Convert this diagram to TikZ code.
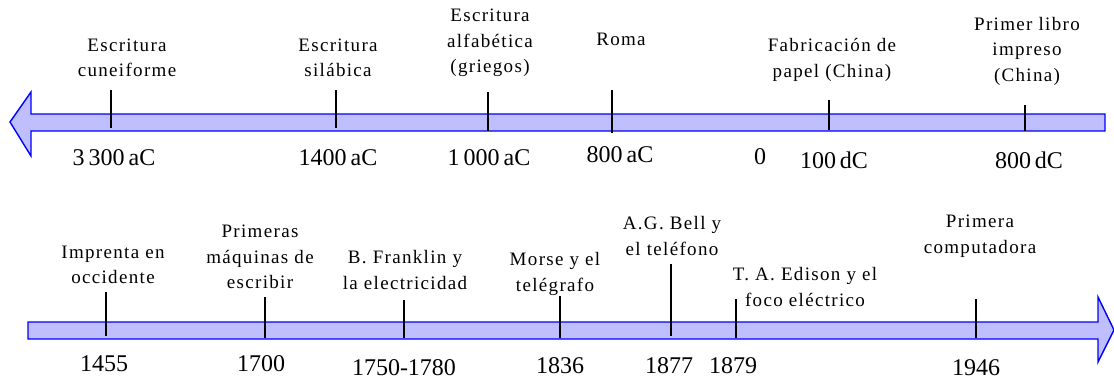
\documentclass[tikz,border=0pt]{standalone}
\usepackage{fontspec}
\setmainfont{Liberation Serif}
\newfontfamily\eventfont[LetterSpace=7]{Liberation Serif}
\tikzset{
  bar/.style={draw=blue, line width=1.4pt, fill=blue!25},
  tick/.style={line width=2.5pt},
  event/.style={align=center, font=\eventfont\fontsize{19}{25.5}\selectfont},
  year/.style={font=\fontsize{24}{26}\selectfont}
}
\begin{document}
\begin{tikzpicture}[x=1pt, y=-1pt]
\useasboundingbox (0,0) rectangle (1114,383);
%%%%%%%%%%%%% top line
\draw[bar] (10,122) -- (31,92) -- (31,114) -- (1105,114) -- (1105,131) -- (31,131) -- (31,156) -- cycle;
\coordinate (cuneiT) at (111,90);  \coordinate (cuneiB) at (111,128);
\coordinate (silabT) at (336,90);  \coordinate (silabB) at (336,128);
\coordinate (alfaT) at (488,92);   \coordinate (alfaB) at (488,131);
\coordinate (romaT) at (612,90);   \coordinate (romaB) at (612,133);
\coordinate (papelT) at (829,100); \coordinate (papelB) at (829,130);
\coordinate (libroT) at (1025,105); \coordinate (libroB) at (1025,131);
\draw[tick] (cuneiT) -- (cuneiB);
\draw[tick] (silabT) -- (silabB);
\draw[tick] (alfaT) -- (alfaB);
\draw[tick] (romaT) -- (romaB);
\draw[tick] (papelT) -- (papelB);
\draw[tick] (libroT) -- (libroB);
\node[event] (cunei) at (127,58) {Escritura\\cuneiforme};
\node[event] (silab) at (338,58) {Escritura\\silábica};
\node[event] (alfa) at (490,43) {Escritura\\alfabética\\(griegos)};
\node[event] (roma) at (621,39) {Roma};
\node[event] (papel) at (832,60) {Fabricación de\\papel (China)};
\node[event] (libro) at (1027,51) {Primer libro\\impreso\\(China)};
\node[year] (y3300) at (114,158) {3\,300\,aC};
\node[year] (y1400) at (338,158) {1400\,aC};
\node[year] (y1000) at (489,158) {1\,000\,aC};
\node[year] (y800a) at (620,155) {800\,aC};
\node[year] (y0) at (760,157) {0};
\node[year] (y100) at (834,160) {100\,dC};
\node[year] (y800d) at (1029,160) {800\,dC};
%%%%%%%%%%%%% bottom line
\draw[bar] (28,322) -- (1098,322) -- (1098,297) -- (1114,330) -- (1098,362) -- (1098,339) -- (28,339) -- cycle;
\coordinate (imprT) at (106,292);   \coordinate (imprB) at (106,336);
\coordinate (maqT) at (265,297);    \coordinate (maqB) at (265,338);
\coordinate (frankT) at (404,300);  \coordinate (frankB) at (404,338);
\coordinate (morseT) at (560,296);  \coordinate (morseB) at (560,338);
\coordinate (bellT) at (671,264);   \coordinate (bellB) at (671,336);
\coordinate (edisonT) at (736,299); \coordinate (edisonB) at (736,338);
\coordinate (compT) at (976,299);   \coordinate (compB) at (976,338);
\draw[tick] (imprT) -- (imprB);
\draw[tick] (maqT) -- (maqB);
\draw[tick] (frankT) -- (frankB);
\draw[tick] (morseT) -- (morseB);
\draw[tick] (bellT) -- (bellB);
\draw[tick] (edisonT) -- (edisonB);
\draw[tick] (compT) -- (compB);
\node[event] (impr) at (113,265) {Imprenta en\\occidente};
\node[event] (maq) at (260,257) {Primeras\\máquinas de\\escribir};
\node[event] (frank) at (405,270) {B. Franklin y\\la electricidad};
\node[event] (morse) at (555,274) {Morse y el\\telégrafo};
\node[event] (bell) at (672,236) {A.G. Bell y\\el teléfono};
\node[event] (edison) at (805,287) {T. A. Edison y el\\foco eléctrico};
\node[event] (comp) at (980,236) {Primera\\computadora};
\node[year] (y1455) at (104,364) {1455};
\node[year] (y1700) at (261,364) {1700};
\node[year] (y1750) at (404,368) {1750-1780};
\node[year] (y1836) at (560,366) {1836};
\node[year] (y1877) at (669,366) {1877};
\node[year] (y1879) at (733,366) {1879};
\node[year] (y1946) at (976,368) {1946};
\end{tikzpicture}
\end{document}
